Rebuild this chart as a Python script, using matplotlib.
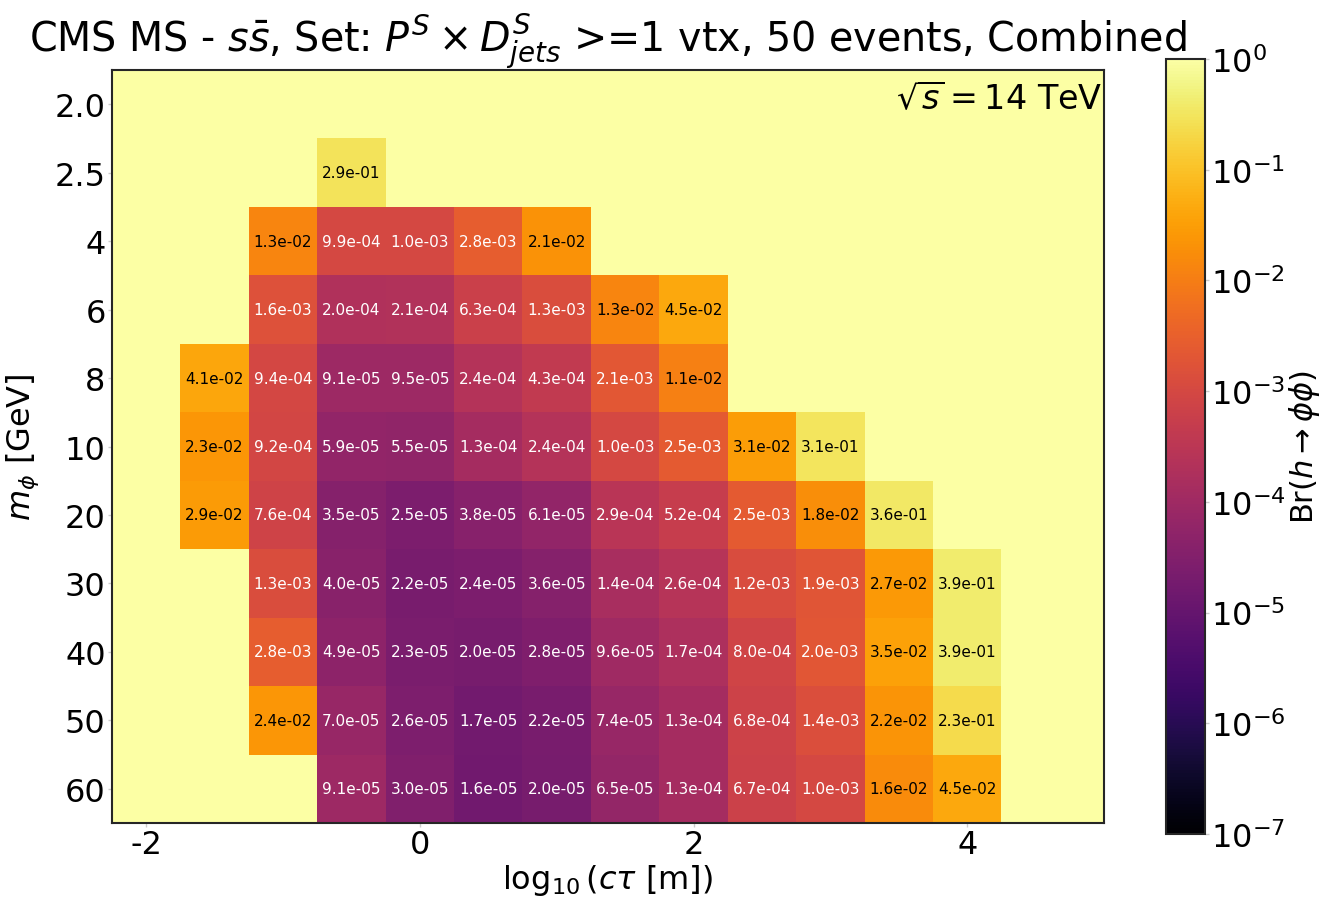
import numpy as np
import matplotlib
matplotlib.use('Agg')
import matplotlib.pyplot as plt
from matplotlib.colors import LogNorm
from matplotlib.ticker import NullFormatter

plt.rcParams['axes.unicode_minus'] = False
plt.rcParams['font.family'] = ['DejaVu Sans']

# y categories (top to bottom) and lifetime columns
masses = ['2.0', '2.5', '4', '6', '8', '10', '20', '30', '40', '50', '60']
log_ctau = [-1.5, -1.0, -0.5, 0.0, 0.5, 1.0, 1.5, 2.0, 2.5, 3.0, 3.5, 4.0]

nan = np.nan
# Br limits, one row per mass, one column per log10(ctau)
br_2p0 = [nan, nan, nan, nan, nan, nan, nan, nan, nan, nan, nan, nan]
br_2p5 = [nan, nan, 2.9e-01, nan, nan, nan, nan, nan, nan, nan, nan, nan]
br_4 = [nan, 1.3e-02, 9.9e-04, 1.0e-03, 2.8e-03, 2.1e-02, nan, nan, nan, nan, nan, nan]
br_6 = [nan, 1.6e-03, 2.0e-04, 2.1e-04, 6.3e-04, 1.3e-03, 1.3e-02, 4.5e-02, nan, nan, nan, nan]
br_8 = [4.1e-02, 9.4e-04, 9.1e-05, 9.5e-05, 2.4e-04, 4.3e-04, 2.1e-03, 1.1e-02, nan, nan, nan, nan]
br_10 = [2.3e-02, 9.2e-04, 5.9e-05, 5.5e-05, 1.3e-04, 2.4e-04, 1.0e-03, 2.5e-03, 3.1e-02, 3.1e-01, nan, nan]
br_20 = [2.9e-02, 7.6e-04, 3.5e-05, 2.5e-05, 3.8e-05, 6.1e-05, 2.9e-04, 5.2e-04, 2.5e-03, 1.8e-02, 3.6e-01, nan]
br_30 = [nan, 1.3e-03, 4.0e-05, 2.2e-05, 2.4e-05, 3.6e-05, 1.4e-04, 2.6e-04, 1.2e-03, 1.9e-03, 2.7e-02, 3.9e-01]
br_40 = [nan, 2.8e-03, 4.9e-05, 2.3e-05, 2.0e-05, 2.8e-05, 9.6e-05, 1.7e-04, 8.0e-04, 2.0e-03, 3.5e-02, 3.9e-01]
br_50 = [nan, 2.4e-02, 7.0e-05, 2.6e-05, 1.7e-05, 2.2e-05, 7.4e-05, 1.3e-04, 6.8e-04, 1.4e-03, 2.2e-02, 2.3e-01]
br_60 = [nan, nan, 9.1e-05, 3.0e-05, 1.6e-05, 2.0e-05, 6.5e-05, 1.3e-04, 6.7e-04, 1.0e-03, 1.6e-02, 4.5e-02]

Z = np.array([br_2p0, br_2p5, br_4, br_6, br_8, br_10, br_20,
              br_30, br_40, br_50, br_60])

cmap = plt.get_cmap('inferno')
norm = LogNorm(vmin=1e-7, vmax=1.0)

fig = plt.figure(figsize=(13.38, 9.12), dpi=100)
ax = fig.add_axes([0.0837, 0.0965, 0.7414, 0.8256])
cax = fig.add_axes([0.8714, 0.0844, 0.0292, 0.8498])

# empty cells show the top colour of the map
ax.set_facecolor(cmap(1.0))

x = np.array(log_ctau)
dx = 0.5
xedges = np.append(x - dx / 2, x[-1] + dx / 2)
yedges = np.arange(len(masses) + 1) - 0.5
mesh = ax.pcolormesh(xedges, yedges, np.ma.masked_invalid(Z), cmap=cmap, norm=norm)

for i in range(Z.shape[0]):
    for j in range(Z.shape[1]):
        v = Z[i, j]
        if np.isnan(v):
            continue
        col = 'white' if v < 5e-3 else 'black'
        ax.text(x[j], i, '%.1e' % v, ha='center', va='center', fontsize=11, color=col)

ax.set_xlim(-2.25, 5.0)
ax.set_ylim(len(masses) - 0.5, -0.5)
ax.set_yticks(np.arange(len(masses)))
ax.set_yticklabels(masses)
ax.set_xticks([-2, 0, 2, 4])
ax.set_xticklabels(['-2', '0', '2', '4'])

ax.tick_params(labelsize=23, length=3, width=1, color='#cccccc', pad=1.5)
for s in ax.spines.values():
    s.set_color('#262626')
    s.set_linewidth(1.5)

ax.set_xlabel(r'$\log_{10}(c\tau$ [m]$)$', fontsize=23, labelpad=1)
ax.set_ylabel(r'$m_{\phi}$ [GeV]', fontsize=23, labelpad=10)
ax.set_title(r'CMS MS - $s\bar{s}$, Set: $P^S \times D^S_{jets}$ >=1 vtx, 50 events, Combined',
             fontsize=28.5, pad=5)
ax.text(0.999, 0.985, r'$\sqrt{s} = 14$ TeV', transform=ax.transAxes,
        ha='right', va='top', fontsize=24)

cb = fig.colorbar(mesh, cax=cax)
cb.ax.minorticks_off()
cb.ax.yaxis.set_minor_formatter(NullFormatter())
cb.set_label(r'Br$(h\rightarrow\phi\phi)$', fontsize=22, labelpad=1)
cb.ax.tick_params(labelsize=23, length=3, width=1, color='#cccccc', pad=1.5)
cb.outline.set_edgecolor('#262626')
cb.outline.set_linewidth(1.5)

fig.savefig('out.png', dpi=100)
